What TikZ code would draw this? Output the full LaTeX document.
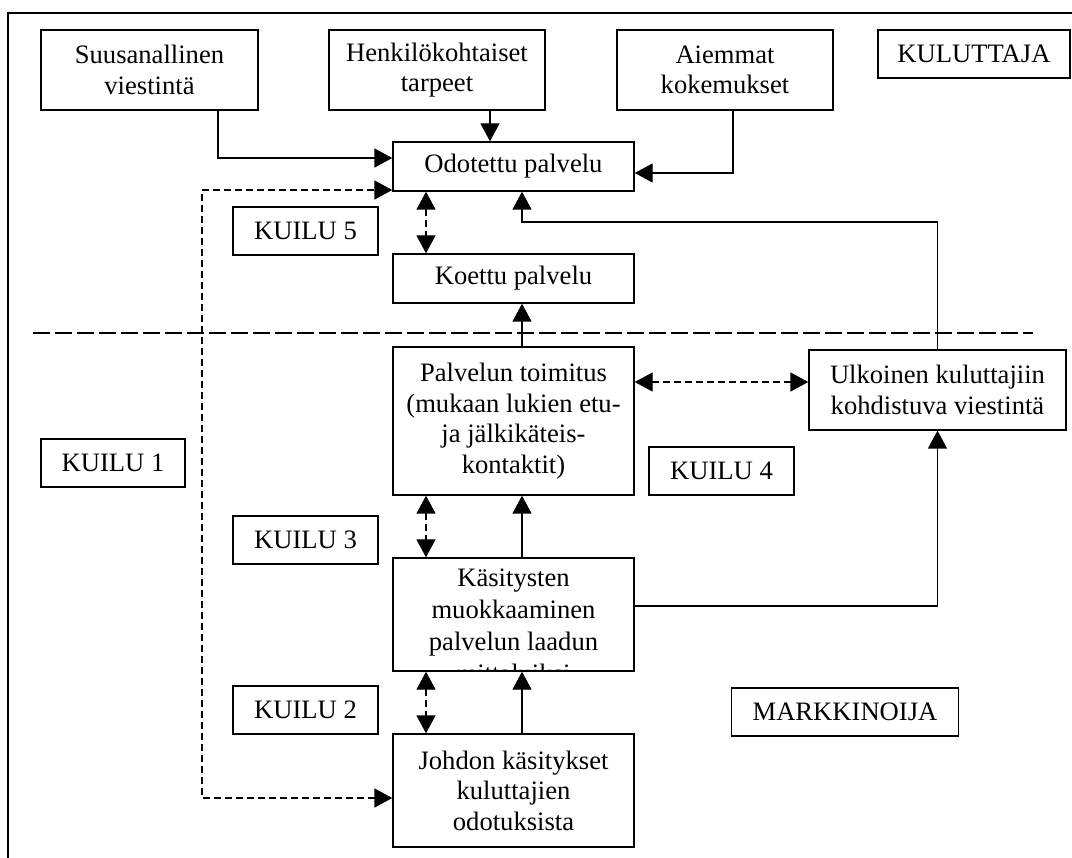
\documentclass[tikz,border=0pt]{standalone}
\usepackage{fontspec}
\setmainfont{Liberation Serif}
\usetikzlibrary{arrows.meta,calc}
\begin{document}
\begin{tikzpicture}[x=1pt,y=-1pt,
  box/.style={draw, line width=1.3pt, align=center, inner sep=0pt, font=\fontsize{26.6}{30.5}\selectfont},
  sz/.style 2 args={minimum width=#1pt, minimum height=#2pt},
  txt/.style={inner sep=0pt, align=center, font=\fontsize{26.6}{32}\selectfont},
  arr/.style={line width=1.3pt, -{Triangle[length=18pt,width=19pt]}},
  darr/.style={line width=1.3pt, dash pattern=on 7pt off 4pt, {Triangle[length=18pt,width=19pt]}-{Triangle[length=18pt,width=19pt]}},
  sepline/.style={line width=1.3pt, dash pattern=on 17pt off 5pt}]
\clip (0,0) rectangle (1072,858);
\fill[white] (0,0) rectangle (1072,858);
% outer frame
\draw[line width=1.3pt] (8,13) rectangle (1100,900);
% top row
\node[box, sz={217}{80}] (suus) at (149.5,70) {Suusanallinen\\viestintä};
\node[box, sz={216}{80}] (henk) at (437,70) {Henkilökohtaiset\\tarpeet};
\node[box, sz={216}{80}] (aiem) at (725,70) {Aiemmat\\kokemukset};
\node[box, sz={192}{48}] (kul) at (974,54) {KULUTTAJA};
% central column
\node[box, sz={241}{49}] (odot) at (513.5,166.5) {Odotettu palvelu};
\node[box, sz={241}{49}] (koet) at (513.5,278.5) {Koettu palvelu};
\node[box, sz={241}{148}] (toim) at (513.5,421) {Palvelun toimitus\\(mukaan lukien etu-\\ja jälkikäteis-\\kontaktit)};
\node[box, sz={241}{113}] (kas) at (513.5,614.5) {};
\begin{scope}
  \clip (kas.south west) rectangle (kas.north east);
  \node[txt, anchor=north] (kastxt) at ($(kas.north)+(0,11.5)$) {Käsitysten\\muokkaaminen\\palvelun laadun\\mittaluiksi};
\end{scope}
\node[box, sz={241}{113}] (joh) at (513.5,790.5) {Johdon käsitykset\\kuluttajien\\odotuksista};
\node[box, sz={257}{80}] (ulk) at (937.5,390) {Ulkoinen kuluttajiin\\kohdistuva viestintä};
% gap labels
\node[box, sz={145}{48}] (k5) at (305.5,231) {KUILU 5};
\node[box, sz={144}{48}] (k1) at (113,463) {KUILU 1};
\node[box, sz={145}{48}] (k4) at (721.5,471) {KUILU 4};
\node[box, sz={145}{48}] (k3) at (305.5,540) {KUILU 3};
\node[box, sz={145}{48}] (k2) at (305.5,710) {KUILU 2};
\node[box, sz={227}{48}] (mark) at (845,712) {MARKKINOIJA};
% separator line
\coordinate (sepL) at (33,333);
\coordinate (sepR) at (1033,333);
\draw[sepline] (sepL) -- (sepR);
% connectors into Odotettu palvelu
\draw[arr] ([xshift=68.5pt]suus.south) |- ([yshift=8.5pt]odot.west);
\coordinate (hA) at ([xshift=53pt]henk.south);
\draw[arr] (hA) -- (hA |- odot.north);
\coordinate (aA) at ([xshift=8pt]aiem.south);
\draw[arr] (aA) |- ([yshift=-6.5pt]odot.east);
\coordinate (dL) at (202,500);
\draw[darr] ([yshift=-7.5pt]joh.west) -| (dL) |- ([yshift=-23.5pt]odot.west);
% gap 5
\coordinate (c1) at ([xshift=-87.5pt]odot.south);
\draw[darr] (c1) -- (c1 |- koet.north);
% delivery to experienced
\coordinate (c2) at ([xshift=8.5pt]toim.north);
\draw[arr] (c2) -- (c2 |- koet.south);
% external communication to expected
\coordinate (t1) at (522,222);
\draw[arr] (ulk.north) |- (t1) -- (t1 |- odot.south);
% gap 4
\coordinate (c4) at ([yshift=39pt]toim.east);
\draw[darr] (c4) -- (c4 -| ulk.west);
% gap 3
\coordinate (c5) at ([xshift=-87.5pt]toim.south);
\draw[darr] (c5) -- (c5 |- kas.north);
\coordinate (c6) at ([xshift=8.5pt]kas.north);
\draw[arr] (c6) -- (c6 |- toim.south);
% specifications to external communication
\draw[arr] ([yshift=8.5pt]kas.east) -| (ulk.south);
% gap 2
\coordinate (c7) at ([xshift=-87.5pt]kas.south);
\draw[darr] (c7) -- (c7 |- joh.north);
\coordinate (c8) at ([xshift=8.5pt]joh.north);
\draw[arr] (c8) -- (c8 |- kas.south);
\end{tikzpicture}
\end{document}
